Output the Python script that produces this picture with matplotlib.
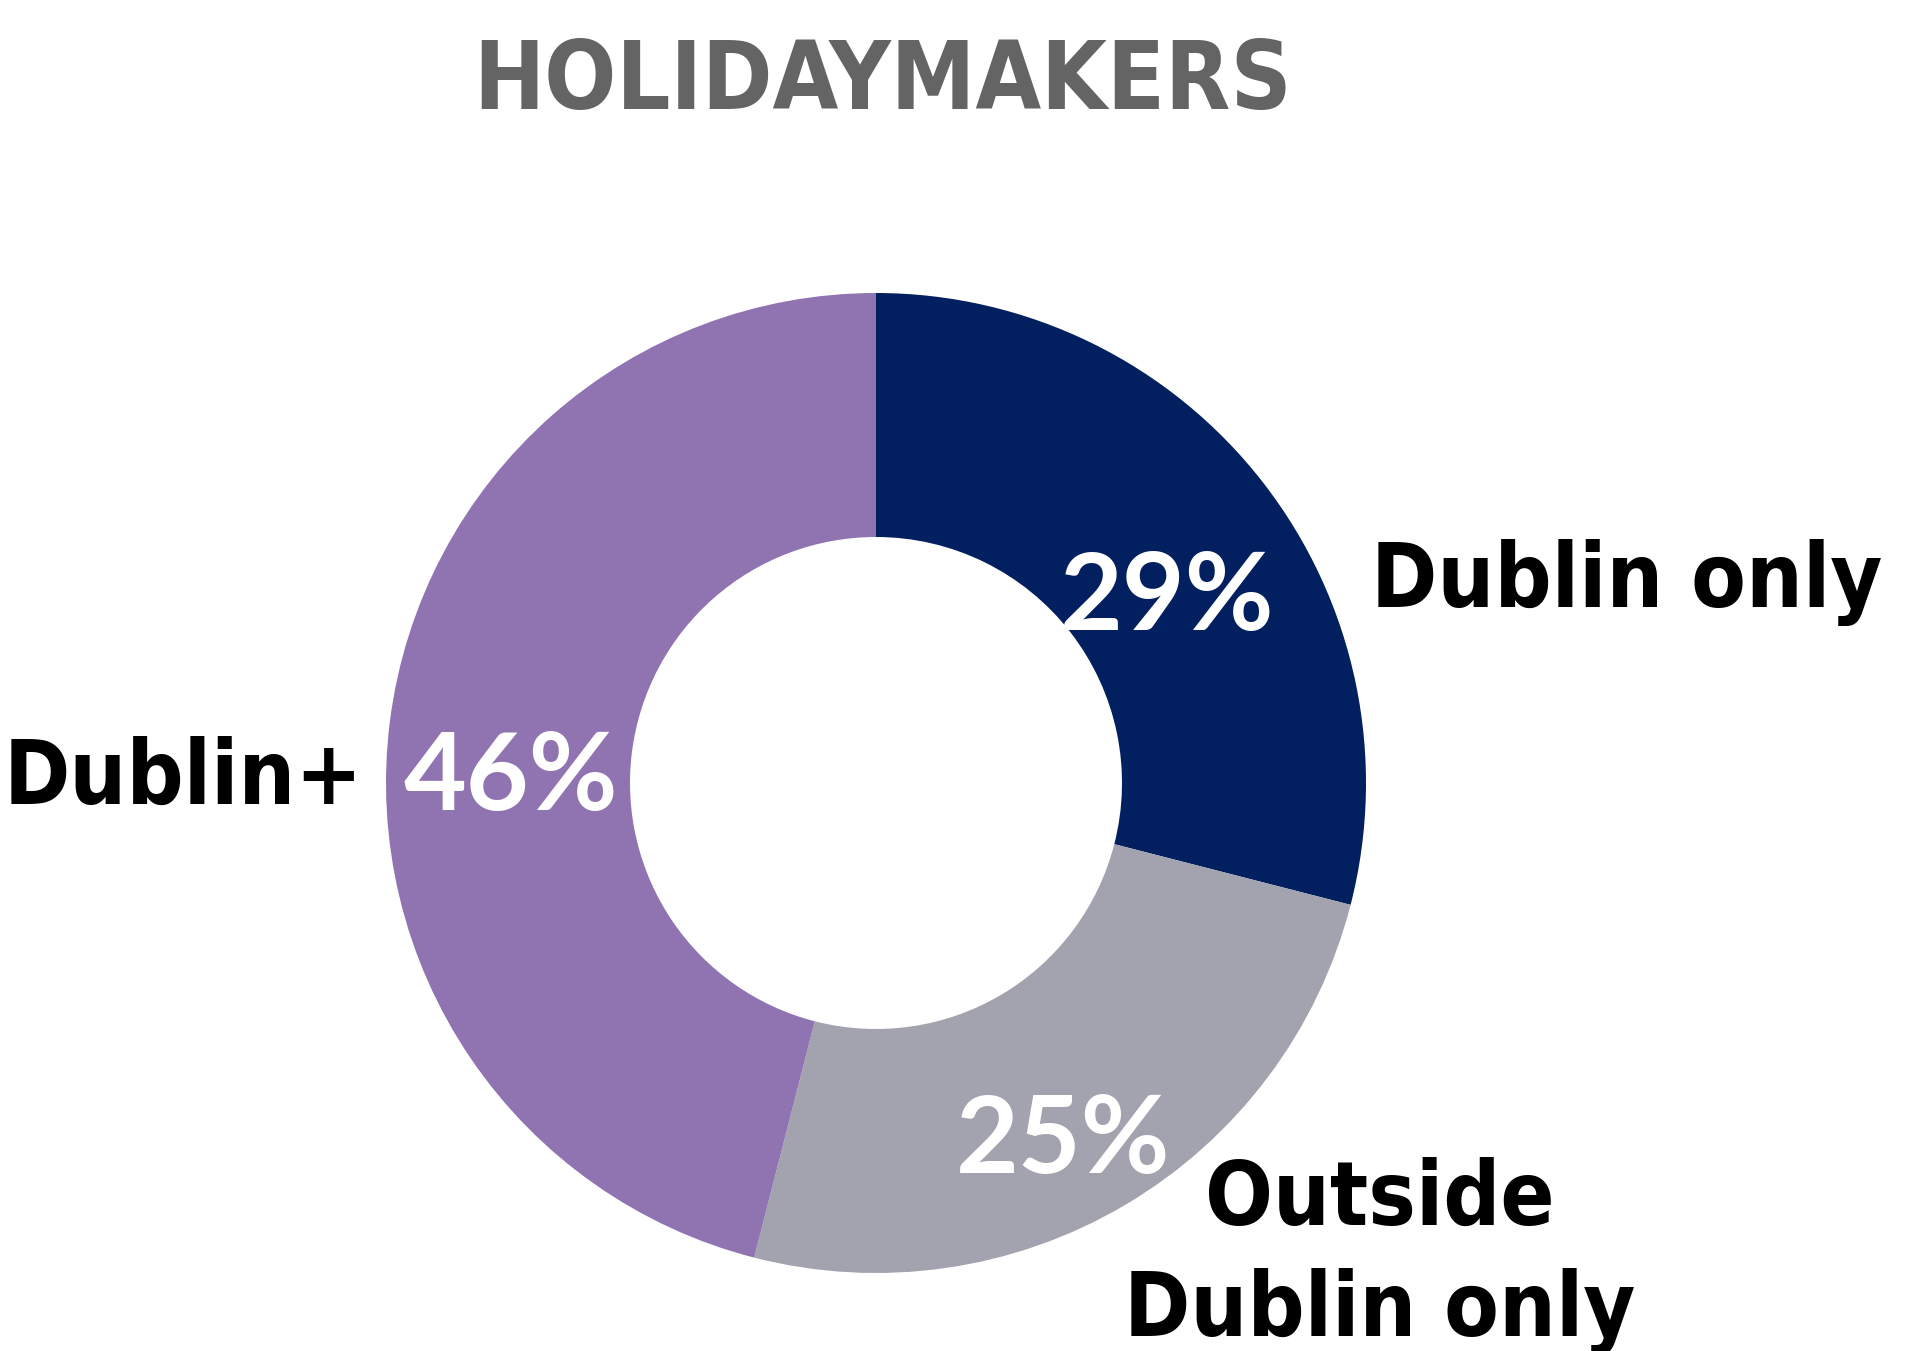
import numpy as np
import matplotlib
matplotlib.use("Agg")
import matplotlib.pyplot as plt

# Data
categories = ["Dublin only", "Outside\nDublin only", "Dublin+"]
shares = [29, 25, 46]
colors = ["#02205F", "#A2A3AF", "#9074B1"]
title = "HOLIDAYMAKERS"

W, H = 1916, 1351
fig = plt.figure(figsize=(W / 100, H / 100), dpi=100)
ax = fig.add_axes([0, 0, 1, 1])

cx, cy = 876, H - 783
r_out, r_in = 490, 246

wedges, _ = ax.pie(shares, colors=colors, startangle=90, counterclock=False,
                   radius=r_out, center=(cx, cy), frame=True,
                   wedgeprops=dict(width=r_out - r_in, linewidth=0))
ax.set_xlim(0, W)
ax.set_ylim(0, H)
ax.set_aspect("equal")
ax.axis("off")

label_kw = dict(family="DejaVu Sans", fontstretch="condensed", fontweight="bold")
pct_kw = dict(family=["Lato", "DejaVu Sans"], fontweight="bold")

r_mid = (r_out + r_in) / 2
for w, s in zip(wedges, shares):
    ang = np.deg2rad((w.theta1 + w.theta2) / 2)
    x = cx + r_mid * np.cos(ang)
    y = cy + r_mid * np.sin(ang) - 73
    ax.text(x, y, f"{s}%", color="white", fontsize=78, ha="center",
            va="baseline", **pct_kw)

ax.text(1371, H - 607, categories[0], fontsize=64, ha="left", va="baseline",
        color="black", **label_kw)
ax.text(1380, H - 1336, categories[1], fontsize=64, ha="center", va="baseline",
        color="black", linespacing=1.35, **label_kw)
ax.text(363, H - 804, categories[2], fontsize=64, ha="right", va="baseline",
        color="black", **label_kw)

ax.text(883, H - 109, title, fontsize=68, ha="center", va="baseline",
        color="#646464", **label_kw)

fig.savefig("out.png", dpi=100)
